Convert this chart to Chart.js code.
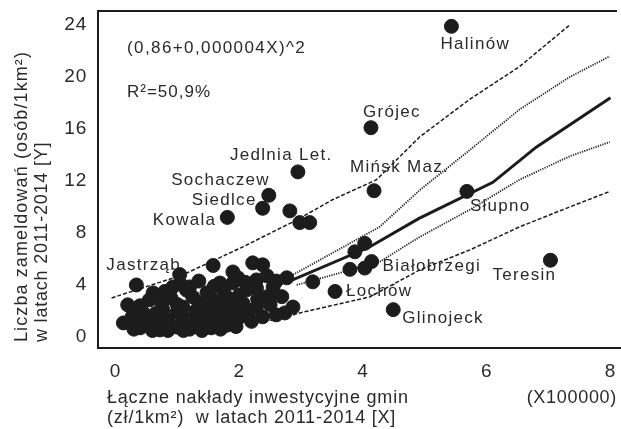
<!DOCTYPE html>
<html>
<head>
<meta charset="utf-8">
<script src="https://cdn.jsdelivr.net/npm/chart.js@4.4.1/dist/chart.umd.min.js"></script>
<style>
  html, body { margin: 0; padding: 0; background: #fff; }
</style>
</head>
<body>
<canvas id="chart" width="621" height="429"></canvas>
<script>
// labelled gminas
const townNames = ["Halinów", "Grójec", "Jedlnia Let.", "Mińsk Maz.", "Sochaczew", "Siedlce", "Kowala",
  "Jastrząb", "Słupno", "Białobrzegi", "Teresin", "Łochów", "Glinojeck"];
const townX = [5.43, 4.13, 2.95, 4.18, 2.48, 2.38, 1.81, 0.34, 5.68, 4.14, 7.03, 3.55, 4.49];
const townY = [23.9, 16.1, 12.7, 11.25, 10.9, 9.9, 9.2, 4.0, 11.2, 5.8, 5.9, 3.5, 2.1];

// remaining gminas
const otherX = [1.04, 1.58, 2.22, 2.38, 1.98, 0.93, 1.48, 1.69, 2.55, 2.77, 2.69, 2.87, 2.74, 2.38, 2.28,
  2.06, 1.9, 1.63, 1.31, 0.99, 0.72, 0.4, 0.13, 0.2, 0.55, 0.45, 0.77, 1.09, 1.25, 1.48, 1.8, 1.09, 1.37,
  1.63, 2.01, 2.12, 1.9, 1.8, 2.28, 2.44, 0.61, 1.2, 2.28, 3.19, 0.27, 0.5, 0.85, 1.15, 1.45, 1.75, 2.15,
  0.65, 1.0, 1.3, 1.6, 0.9, 1.15, 1.75, 2.0, 2.5, 2.6, 0.3, 0.55, 1.2, 1.55, 1.8, 2.2, 2.6,
  0.3, 0.6, 0.85, 1.1, 1.4, 1.7, 1.95, 0.35, 0.7, 1.0, 1.25, 1.55, 1.85, 2.05, 0.4, 0.75, 1.35, 1.65,
  1.95, 2.3, 2.55, 0.8, 1.35, 1.9, 2.1, 2.45, 1.6, 1.05,
  3.87, 4.03, 3.79, 4.03, 2.82, 2.98, 3.14];
const otherY = [4.8, 5.5, 5.7, 5.55, 4.55, 3.85, 3.4, 4.15, 3.85, 4.55, 3.1, 2.3, 1.85, 1.55, 2.3,
  2.6, 1.08, 1.08, 0.77, 0.77, 0.54, 0.7, 1.08, 2.47, 2.85, 1.85, 2.08, 2.3, 3.08, 2.3, 2.08, 1.54, 1.54,
  1.85, 1.54, 3.62, 4.16, 3.08, 3.77, 3.08, 3.39, 3.85, 4.39, 4.24, 1.54, 1.2, 1.3, 1.1, 1.2, 1.5, 1.9,
  1.8, 2.5, 2.0, 2.8, 3.0, 3.6, 3.6, 3.2, 2.5, 4.3, 2.0, 0.9, 0.6, 0.7, 0.9, 1.2, 1.7,
  0.6, 0.5, 0.5, 0.5, 0.5, 0.6, 0.8, 1.5, 1.2, 1.9, 1.4, 1.5, 1.8, 2.1, 2.4, 2.6, 2.6, 2.4,
  2.7, 2.9, 3.4, 3.5, 4.3, 5.0, 4.2, 4.7, 3.9, 4.1,
  6.55, 7.2, 5.2, 5.3, 9.7, 8.8, 8.8];

// fitted model and limits
const fitX = [2.77, 4.1, 4.9, 6.1, 6.8, 8.0];
const fitY = [4.2, 6.9, 9.1, 11.9, 14.6, 18.4];
const meanUpX = [2.87, 4.27, 4.92, 5.73, 6.53, 7.34, 7.99];
const meanUpY = [4.78, 8.47, 11.3, 14.4, 17.5, 20.0, 21.6];
const meanLowX = [2.93, 4.27, 4.92, 5.73, 6.53, 7.34, 7.99];
const meanLowY = [4.0, 5.78, 7.7, 9.8, 12.1, 13.9, 15.0];
const predUpX = [-0.06, 1.09, 2.06, 2.93, 3.51, 4.22, 4.92, 5.73, 6.53, 7.34];
const predUpY = [3.0, 4.78, 6.93, 9.0, 10.56, 12.1, 15.4, 18.3, 20.8, 24.0];
const predLowX = [2.01, 2.61, 2.98, 4.11, 4.92, 5.73, 6.53, 7.34, 7.99];
const predLowY = [1.16, 1.31, 1.85, 3.08, 5.16, 6.7, 8.47, 10.0, 11.2];

const xTicks = [0, 2, 4, 6, 8];
const yTicks = [0, 4, 8, 12, 16, 20, 24];

const ink = "#1c1c1c";
const textInk = "#2a2a2a";

// label placement in pixels relative to each dot
const labelOffsets = {
  "Halinów": [-11, 18, "left"],
  "Grójec": [-8, -15, "left"],
  "Jedlnia Let.": [-68, -17, "left"],
  "Mińsk Maz.": [-24, -23, "left"],
  "Sochaczew": [1, -15, "right"],
  "Siedlce": [-6, -8, "right"],
  "Kowala": [-11, 3, "right"],
  "Jastrząb": [-30, -20, "left"],
  "Słupno": [3, 15, "left"],
  "Białobrzegi": [11, 5, "left"],
  "Teresin": [-58, 15, "left"],
  "Łochów": [11, 0, "left"],
  "Glinojeck": [9, 9, "left"],
};

const toPoints = (xs, ys) => xs.map((x, i) => ({ x: x, y: ys[i] }));

const lineSet = (xs, ys, width, dash) => ({
  data: toPoints(xs, ys),
  showLine: true,
  borderColor: ink,
  borderWidth: width,
  borderDash: dash,
  pointRadius: 0,
  tension: 0,
  order: 2,
});

const drawText = (ctx, text, x, y, size, align, spacing) => {
  ctx.save();
  ctx.font = `${size}px "Liberation Sans", Arial, sans-serif`;
  ctx.letterSpacing = spacing + "px";
  ctx.fillStyle = textInk;
  ctx.textAlign = align;
  ctx.textBaseline = "middle";
  ctx.fillText(text, x, y);
  ctx.restore();
};

const decorations = {
  id: "decorations",
  beforeDraw: (chart) => {
    chart.ctx.letterSpacing = "0.8px";
  },
  afterDatasetsDraw: (chart) => {
    const ctx = chart.ctx;
    const xs = chart.scales.x;
    const ys = chart.scales.y;
    const area = chart.chartArea;

    // top frame line (the frame is open on the right)
    ctx.save();
    ctx.fillStyle = ink;
    ctx.fillRect(area.left - 1, area.top - 1, area.right - area.left - 3, 2);
    ctx.restore();

    townNames.forEach((name, i) => {
      const off = labelOffsets[name];
      const px = xs.getPixelForValue(townX[i]);
      const py = ys.getPixelForValue(townY[i]);
      drawText(ctx, name, px + off[0], py + off[1], 17, off[2], 1.3);
    });

    drawText(ctx, "(0,86+0,000004X)^2", 127, 48, 17, "left", 1.4);
    drawText(ctx, "R²=50,9%", 127, 92, 17, "left", 1.0);
  },
  afterDraw: (chart) => {
    const ctx = chart.ctx;
    drawText(ctx, "Łączne nakłady inwestycyjne gmin", 107, 398, 18, "left", 0.8);
    drawText(ctx, "(zł/1km²)  w latach 2011-2014 [X]", 107, 418, 18, "left", 0.8);
    drawText(ctx, "(X100000)", 617, 398, 18, "right", 0.7);

    ctx.save();
    ctx.translate(22, 342);
    ctx.rotate(-Math.PI / 2);
    drawText(ctx, "Liczba zameldowań (osób/1km²)", 0, 0, 18, "left", 1.1);
    drawText(ctx, "w latach 2011-2014 [Y]", 0, 20, 18, "left", 0.8);
    ctx.restore();
  },
};

const createChart = (ctx) => {
  return new Chart(ctx, {
    type: "scatter",
    data: {
      datasets: [
        {
          data: toPoints(townX, townY).concat(toPoints(otherX, otherY)),
          backgroundColor: ink,
          borderColor: ink,
          pointRadius: 7,
          pointHoverRadius: 7,
          order: 1,
        },
        lineSet(fitX, fitY, 3, []),
        lineSet(meanUpX, meanUpY, 1.8, [1.2, 1.2]),
        lineSet(meanLowX, meanLowY, 1.8, [1.2, 1.2]),
        lineSet(predUpX, predUpY, 1.5, [4, 2]),
        lineSet(predLowX, predLowY, 1.5, [4, 2]),
      ],
    },
    options: {
      responsive: false,
      animation: false,
      devicePixelRatio: 1,
      layout: { autoPadding: false, padding: { top: 11, right: 0, left: 0, bottom: 0 } },
      plugins: { legend: { display: false }, tooltip: { enabled: false } },
      scales: {
        x: {
          type: "linear",
          min: -0.28,
          max: 8.17,
          afterBuildTicks: (scale) => { scale.ticks = xTicks.map((v) => ({ value: v })); },
          afterFit: (scale) => {
            scale.height = 81;
            scale.paddingLeft = 0;
            scale.paddingRight = 0;
          },
          grid: { display: false, drawTicks: false },
          border: { display: true, color: ink, width: 2 },
          ticks: { color: textInk, padding: 12, maxRotation: 0, font: { family: "Liberation Sans", size: 19 } },
        },
        y: {
          type: "linear",
          min: -0.85,
          max: 25.08,
          afterBuildTicks: (scale) => { scale.ticks = yTicks.map((v) => ({ value: v })); },
          afterFit: (scale) => {
            scale.width = 98;
            scale.paddingTop = 0;
            scale.paddingBottom = 0;
          },
          grid: { display: false, drawTicks: false },
          border: { display: true, color: ink, width: 2 },
          ticks: { color: textInk, padding: 11, font: { family: "Liberation Sans", size: 19 } },
        },
      },
    },
    plugins: [decorations],
  });
};

createChart(document.getElementById("chart").getContext("2d"));
</script>
</body>
</html>
